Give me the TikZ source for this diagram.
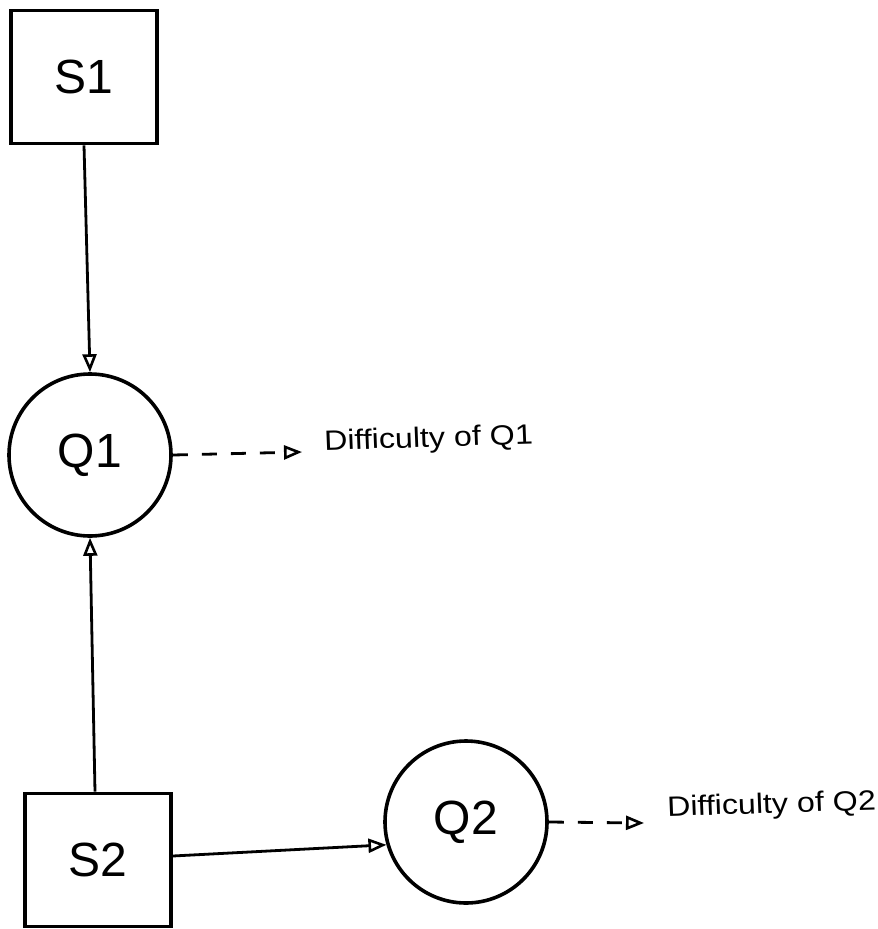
\documentclass[tikz,border=0pt]{standalone}
\usepackage{fontspec}
\setmainfont{Liberation Sans}
\usetikzlibrary{arrows.meta}
\begin{document}
\begin{tikzpicture}[x=1pt,y=-1pt,
  box/.style={draw,line width=3.6pt,minimum width=146pt,minimum height=133pt,inner sep=0pt,font=\fontsize{48}{52}\selectfont},
  circ/.style={draw,circle,line width=3.6pt,minimum size=162pt,inner sep=0pt,font=\fontsize{48}{52}\selectfont},
  lbl/.style={anchor=west,inner sep=0pt,xscale=1.15,rotate=2,font=\fontsize{28}{32}\selectfont},
  conn/.style={line width=2.8pt,-{Triangle[open,length=18pt,width=14pt,line width=2.6pt]}},
  dconn/.style={conn,dash pattern=on 15pt off 14pt}]
\useasboundingbox (0,0) rectangle (878,929);
\node[box] (s1) at (84,77) {S1};
\node[circ] (q1) at (90,455) {Q1};
\node[box] (s2) at (98,860) {S2};
\node[circ] (q2) at (466,822) {Q2};
\node[lbl] (d1) at (324,443) {Difficulty of Q1};
\node[lbl] (d2) at (667,809) {Difficulty of Q2};
\coordinate (e1) at (302,452);
\coordinate (e2) at (644,823);
\draw[conn] (s1.south) -- (q1.north);
\draw[conn] ([xshift=-3pt]s2.north) -- (q1.south);
\draw[conn] ([yshift=4pt]s2.east) -- (q2.196);
\draw[dconn] (q1.east) -- (e1);
\draw[dconn] (q2.east) -- (e2);
\end{tikzpicture}
\end{document}
